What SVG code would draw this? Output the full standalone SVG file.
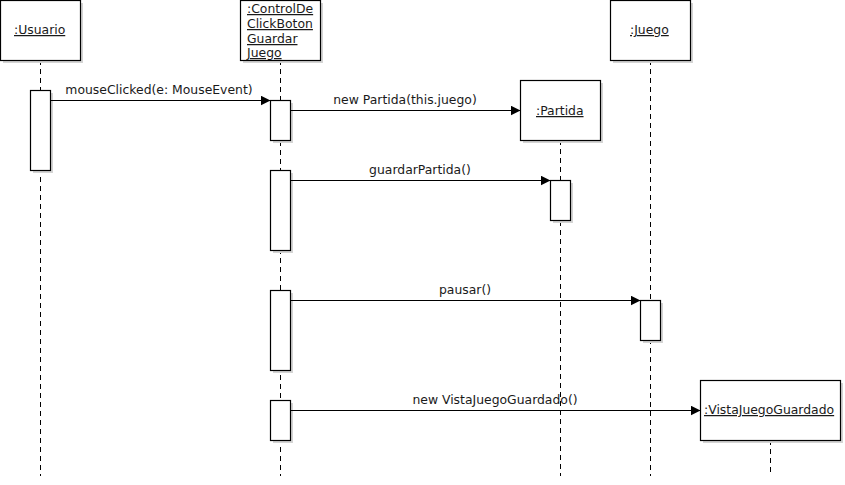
<svg xmlns="http://www.w3.org/2000/svg" width="845" height="485" viewBox="0 0 845 485">
  <defs>
    <marker id="arrow" markerWidth="10" markerHeight="10" refX="10" refY="5" orient="auto" markerUnits="userSpaceOnUse">
      <path d="M0,0 L10,5 L0,10 Z" fill="#000"/>
    </marker>
  </defs>
  <style>
    .box { fill: #fff; stroke: #000; stroke-width: 1.2; }
    .shadow { fill: #d4d4d4; }
    .life { stroke: #000; stroke-width: 1; stroke-dasharray: 5 4; fill: none; }
    .msg { stroke: #000; stroke-width: 1; fill: none; marker-end: url(#arrow); }
    .name { font-family: "DejaVu Sans", sans-serif; font-size: 12.4px; text-decoration: underline; fill: #1a1a1a; }
    .label { font-family: "DejaVu Sans", sans-serif; font-size: 12.4px; fill: #1a1a1a; text-anchor: middle; }
  </style>
  <rect width="845" height="485" fill="#fff"/>

  <!-- lifelines -->
  <g id="lifelines">
    <line class="life" x1="40.5" y1="60" x2="40.5" y2="476"/>
    <line class="life" x1="280.5" y1="60" x2="280.5" y2="476"/>
    <line class="life" x1="560.5" y1="140" x2="560.5" y2="476"/>
    <line class="life" x1="650.5" y1="60" x2="650.5" y2="476"/>
    <line class="life" x1="770.5" y1="440" x2="770.5" y2="476"/>
  </g>

  <g id="usuario">
    <rect class="shadow" x="3" y="3" width="80" height="60"/>
    <rect class="box" x="0.5" y="0.5" width="80" height="60"/>
    <text class="name" x="14" y="34">:Usuario</text>
    <rect class="shadow" x="33" y="93" width="20" height="80"/>
    <rect class="box" x="30.5" y="90.5" width="20" height="80"/>
  </g>

  <g id="control">
    <rect class="shadow" x="243" y="3" width="80" height="60"/>
    <rect class="box" x="240.5" y="0.5" width="80" height="60"/>
    <text class="name" x="247" y="13">:ControlDe</text>
    <text class="name" x="247" y="28">ClickBoton</text>
    <text class="name" x="247" y="43">Guardar</text>
    <text class="name" x="247" y="57">Juego</text>
    <rect class="shadow" x="273" y="103" width="20" height="40"/>
    <rect class="box" x="270.5" y="100.5" width="20" height="40"/>
    <rect class="shadow" x="273" y="173" width="20" height="80"/>
    <rect class="box" x="270.5" y="170.5" width="20" height="80"/>
    <rect class="shadow" x="273" y="293" width="20" height="80"/>
    <rect class="box" x="270.5" y="290.5" width="20" height="80"/>
    <rect class="shadow" x="273" y="403" width="20" height="40"/>
    <rect class="box" x="270.5" y="400.5" width="20" height="40"/>
  </g>

  <g id="partida">
    <rect class="shadow" x="523" y="83" width="80" height="60"/>
    <rect class="box" x="520.5" y="80.5" width="80" height="60"/>
    <text class="name" x="536" y="115">:Partida</text>
    <rect class="shadow" x="553" y="183" width="20" height="40"/>
    <rect class="box" x="550.5" y="180.5" width="20" height="40"/>
  </g>

  <g id="juego">
    <rect class="shadow" x="613" y="3" width="80" height="60"/>
    <rect class="box" x="610.5" y="0.5" width="80" height="60"/>
    <text class="name" x="630" y="34">:Juego</text>
    <rect class="shadow" x="643" y="303" width="20" height="40"/>
    <rect class="box" x="640.5" y="300.5" width="20" height="40"/>
  </g>

  <g id="vista">
    <rect class="shadow" x="703" y="383" width="140" height="60"/>
    <rect class="box" x="700.5" y="380.5" width="140" height="60"/>
    <text class="name" x="704" y="414">:VistaJuegoGuardado</text>
  </g>

  <!-- messages -->
  <g id="connectors">
    <line class="msg" x1="50.5" y1="100.5" x2="270.5" y2="100.5"/>
    <text class="label" x="159" y="94">mouseClicked(e: MouseEvent)</text>
    <line class="msg" x1="290.5" y1="110.5" x2="520.5" y2="110.5"/>
    <text class="label" x="405" y="104">new Partida(this.juego)</text>
    <line class="msg" x1="290.5" y1="180.5" x2="550.5" y2="180.5"/>
    <text class="label" x="420" y="174">guardarPartida()</text>
    <line class="msg" x1="290.5" y1="300.5" x2="640.5" y2="300.5"/>
    <text class="label" x="465" y="294">pausar()</text>
    <line class="msg" x1="290.5" y1="410.5" x2="700.5" y2="410.5"/>
    <text class="label" x="495" y="404">new VistaJuegoGuardado()</text>
  </g>
</svg>
